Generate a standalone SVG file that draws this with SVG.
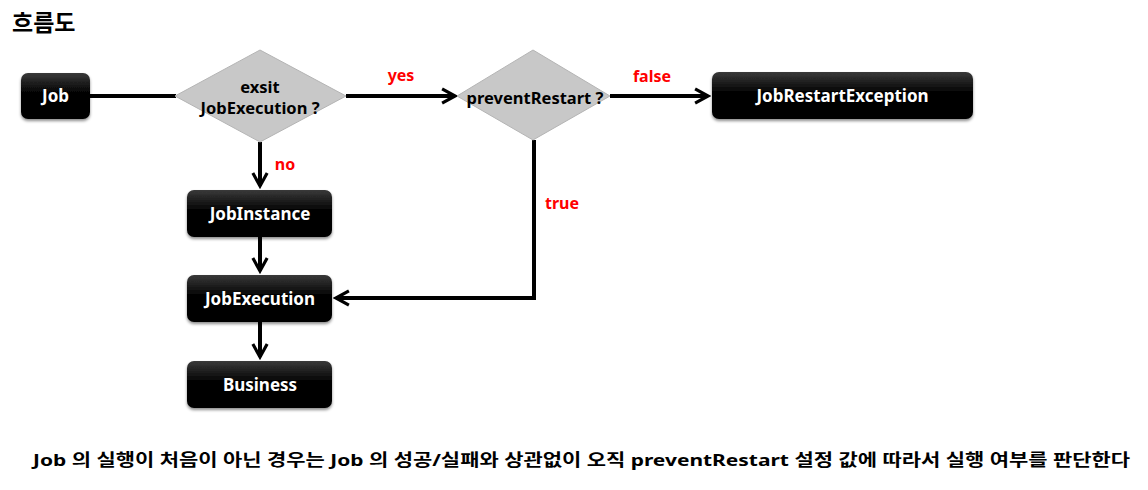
<svg xmlns="http://www.w3.org/2000/svg" width="1148" height="490" viewBox="0 0 1148 490">
<style>
.nt{font-family:"Noto Sans","Liberation Sans",sans-serif;font-weight:bold;font-size:17px;fill:#fff;text-anchor:middle}
.dt{font-family:"Noto Sans","Liberation Sans",sans-serif;font-weight:bold;font-size:16.5px;fill:#000;text-anchor:middle}
.lb{font-family:"Noto Sans","Liberation Sans",sans-serif;font-weight:bold;font-size:16px;fill:#ff0000;text-anchor:middle}
.ti{font-family:"Noto Sans CJK KR",sans-serif;font-weight:bold;font-size:23px;fill:#000}
.bt{font-family:"Noto Sans","Noto Sans CJK KR",sans-serif;font-weight:bold;font-size:16.5px;fill:#000}
.box{fill:url(#g);filter:url(#sh)}
.dia{fill:#c8c8c8;stroke:#b4b4b4;stroke-width:1}
.ln{fill:none;stroke:#000;stroke-width:4}
</style>
<defs>
<linearGradient id="g" x1="0" y1="0" x2="0" y2="1">
<stop offset="0" stop-color="#3a3a3a"/>
<stop offset="0.45" stop-color="#000"/>
<stop offset="1" stop-color="#000"/>
</linearGradient>
<filter id="sh" x="-10%" y="-20%" width="120%" height="150%">
<feDropShadow dx="0" dy="2" stdDeviation="1.5" flood-color="#000" flood-opacity="0.45"/>
</filter>
<marker id="ar" viewBox="0 0 12 12" refX="10" refY="6" markerWidth="4.3" markerHeight="4.3" orient="auto" markerUnits="strokeWidth">
<path d="M1,1 L10,6 L1,11" fill="none" stroke="#000" stroke-width="2.2"/>
</marker>
</defs>
<text class="ti" x="12" y="31">흐름도</text>
<g id="connectors">
<path class="ln" d="M90,96 H176"/>
<path class="ln" d="M346,96 H455" marker-end="url(#ar)"/>
<path class="ln" d="M610,96 H708" marker-end="url(#ar)"/>
<path class="ln" d="M260,142 V186" marker-end="url(#ar)"/>
<path class="ln" d="M260,237 V271" marker-end="url(#ar)"/>
<path class="ln" d="M260,322 V357" marker-end="url(#ar)"/>
<path class="ln" d="M534,140 V298 H336" marker-end="url(#ar)"/>
<text class="lb" x="401" y="81">yes</text>
<text class="lb" x="652" y="82">false</text>
<text class="lb" x="285" y="170">no</text>
<text class="lb" x="562" y="209">true</text>
</g>
<g id="job"><rect class="box" x="21" y="73" width="69" height="46" rx="7"/><text class="nt" x="55.5" y="102">Job</text></g>
<g id="exist"><polygon class="dia" points="175,96 260,50 346,96 260,142"/><text class="dt" x="260" y="93">exsit</text><text class="dt" x="260" y="114">JobExecution ?</text></g>
<g id="prevent"><polygon class="dia" points="457,96 533,50 610,96 533,140"/><text class="dt" x="535" y="104">preventRestart ?</text></g>
<g id="jobRestartException"><rect class="box" x="712" y="72" width="261" height="47" rx="7"/><text class="nt" x="842.5" y="102">JobRestartException</text></g>
<g id="jobInstance"><rect class="box" x="187" y="190" width="145" height="47" rx="7"/><text class="nt" x="260" y="220">JobInstance</text></g>
<g id="jobExecution"><rect class="box" x="187" y="275" width="145" height="47" rx="7"/><text class="nt" x="260" y="305">JobExecution</text></g>
<g id="business"><rect class="box" x="187" y="361" width="145" height="47" rx="7"/><text class="nt" x="260" y="391">Business</text></g>
<text class="bt" x="33" y="466" textLength="1097" lengthAdjust="spacingAndGlyphs">Job 의 실행이 처음이 아닌 경우는 Job 의 성공/실패와 상관없이 오직 preventRestart 설정 값에 따라서 실행 여부를 판단한다</text>
</svg>
